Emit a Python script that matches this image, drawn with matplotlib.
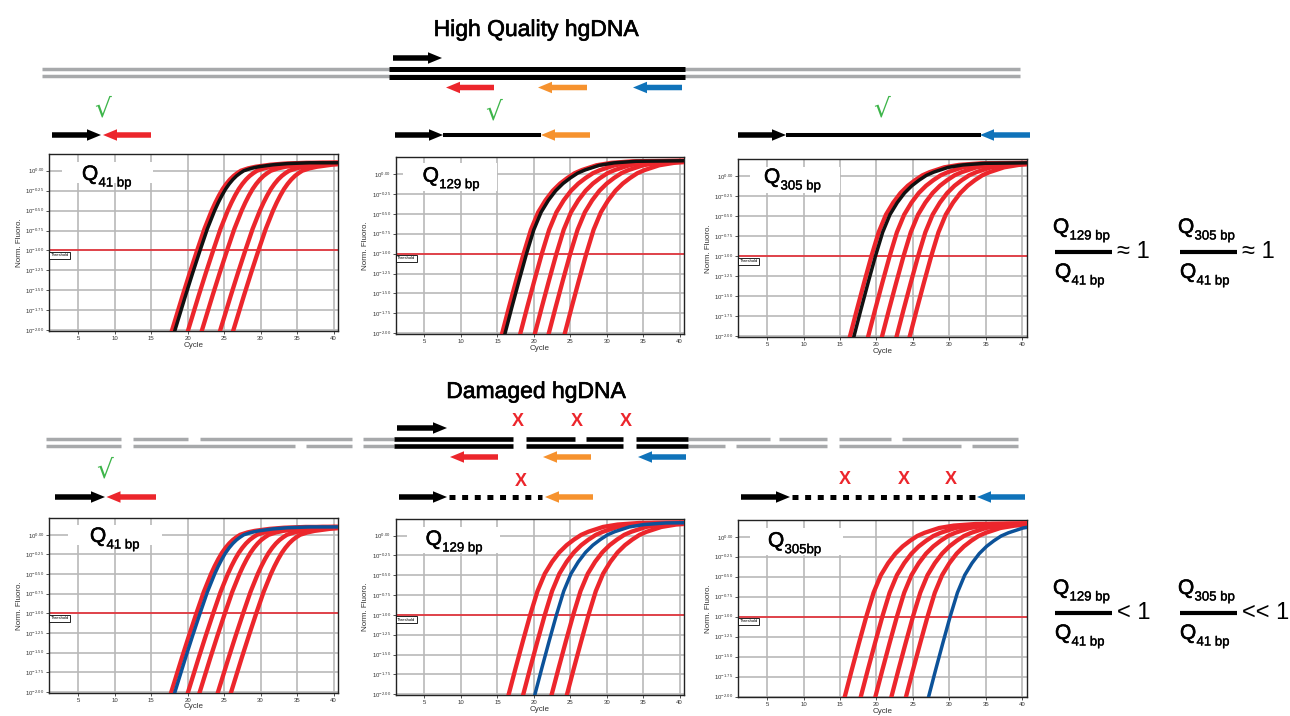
import numpy as np
import matplotlib
matplotlib.use('Agg')
import matplotlib.pyplot as plt
import matplotlib.patheffects as pe
from matplotlib.patches import FancyArrow, Rectangle

plt.rcParams['font.family'] = ['Liberation Sans', 'DejaVu Sans']
plt.rcParams['mathtext.fontset'] = 'custom'
plt.rcParams['mathtext.rm'] = 'Liberation Sans'
plt.rcParams['lines.scale_dashes'] = False

# ---- data ----
cycle_ticks = [5, 10, 15, 20, 25, 30, 35, 40]
fluoro_ticks = [-2.0, -1.75, -1.5, -1.25, -1.0, -0.75, -0.5, -0.25, 0.0]
threshold = -1.0

# amplification curve shape (log10 fluoro) vs cycles after Ct
rel_short = [-4, -3, -2, -1, 0, 1, 2, 2.5, 3, 3.5, 4, 4.5, 5, 5.5, 6, 7, 8, 10, 12, 15, 25]
fluo_short = [-2.17, -1.87, -1.57, -1.28, -1.00, -0.73, -0.50, -0.40, -0.31, -0.23, -0.165,
              -0.11, -0.065, -0.03, 0.0, 0.03, 0.05, 0.075, 0.09, 0.10, 0.10]
rel_long = [-4, -3, -2, -1, 0, 1, 2, 3, 4, 5, 6, 7, 8, 9, 10, 12, 15, 25]
fluo_long = [-2.36, -2.02, -1.67, -1.33, -1.00, -0.70, -0.48, -0.33, -0.21, -0.12, -0.05,
             0.01, 0.05, 0.08, 0.11, 0.14, 0.16, 0.17]

# Ct values (threshold crossings)
hq_41_red = [21.3, 23.5, 25.4, 27.9, 29.7]
hq_41_ref = 21.7
hq_129_red = [18.6, 21.1, 23.1, 25.0, 27.2]
hq_129_ref = 19.0
hq_305_red = [19.3, 21.8, 23.7, 25.7, 27.5]
hq_305_ref = 19.85
dm_41_red = [21.2, 23.5, 25.1, 27.6, 29.4]
dm_41_ref = 21.7
dm_129_red = [19.5, 21.5, 25.4, 27.5]
dm_129_ref = 23.1
dm_305_red = [18.6, 20.8, 22.8, 25.0, 27.0]
dm_305_ref = 30.1

RED = '#ec262c'
BLACK = '#111111'
BLUE = '#0c5299'
ORANGE = '#f6922e'
PBLUE = '#0f73ba'
GREEN = '#3db54a'
GRAY = '#a7a9ab'

# slightly heavier type, like a medium weight
MED = [pe.withStroke(linewidth=0.45, foreground='black')]
MED_S = [pe.withStroke(linewidth=0.25, foreground='black')]

W, H = 1290, 716
fig = plt.figure(figsize=(12.9, 7.16), dpi=100)

# panel frames in pixels: left, top, right, bottom
panels = [
    ((49.3, 154, 338, 331), hq_41_red, hq_41_ref, BLACK, 'short', '41 bp'),
    ((395.7, 157.3, 684, 334), hq_129_red, hq_129_ref, BLACK, 'long', '129 bp'),
    ((738.3, 159.3, 1026.7, 337.3), hq_305_red, hq_305_ref, BLACK, 'long', '305 bp'),
    ((49.3, 518.3, 338, 692.7), dm_41_red, dm_41_ref, BLUE, 'short', '41 bp'),
    ((395.7, 519, 684, 695), dm_129_red, dm_129_ref, BLUE, 'long', '129 bp'),
    ((738.3, 520, 1026.7, 697.3), dm_305_red, dm_305_ref, BLUE, 'long', '305bp'),
]

for (l, t, r, b), reds, ref, refcol, shape, sub in panels:
    ax = fig.add_axes([l / W, 1 - b / H, (r - l) / W, (b - t) / H])
    rel, fl = (rel_short, fluo_short) if shape == 'short' else (rel_long, fluo_long)
    for ct in reds:
        ax.plot(np.array(rel) + ct, fl, color=RED, lw=3.1, solid_capstyle='butt', zorder=3)
    ax.plot(np.array(rel) + ref, fl, color=refcol, lw=2.5, solid_capstyle='butt', zorder=4)
    ax.axhline(threshold, color='#e8202a', lw=1.1, zorder=2)
    ax.text(1.25, threshold - 0.035, 'Threshold', fontsize=3.0, va='top', ha='left', zorder=5,
            bbox=dict(boxstyle='square,pad=0.35', fc='white', ec='black', lw=0.6))
    ax.set_xlim(1.05, 40.6)
    ax.set_ylim(-2.01, 0.21)
    ax.set_xticks(cycle_ticks)
    ax.set_yticks(fluoro_ticks)
    ax.set_yticklabels([r'$\mathregular{10^{%.2f}}$' % v for v in fluoro_ticks])
    ax.tick_params(labelsize=4.3, length=2, width=0.6, pad=1.5, colors='#333333')
    ax.grid(True, color='#b9b9b9', lw=1.2, zorder=1)
    ax.set_axisbelow(True)
    for s in ax.spines.values():
        s.set_linewidth(1.0)
        s.set_color('#222222')
    ax.set_xlabel('Cycle', fontsize=5.8, labelpad=0.5, color='#333333')
    ax.set_ylabel('Norm. Fluoro.', fontsize=5.8, labelpad=2, color='#333333')

# ---- overlay for the schematic ----
ov = fig.add_axes([0, 0, 1, 1], zorder=10)
ov.set_xlim(0, W)
ov.set_ylim(H, 0)
ov.axis('off')
ov.patch.set_alpha(0)


def arrow(x0, x1, y, color):
    ov.add_patch(FancyArrow(x0, y, x1 - x0, 0, width=5.5, head_width=11.5, head_length=14,
                            length_includes_head=True, color=color, lw=0))


def strand(segs, y, color, lw):
    for a, c in segs:
        ov.plot([a, c], [y, y], color=color, lw=lw, solid_capstyle='butt')


def qlabel(x, y, sub, size=15, subsize=9.5):
    ov.text(x, y, 'Q', fontsize=size, ha='left', va='baseline', path_effects=MED)
    ov.text(x + 16.5, y + 6.5, sub, fontsize=subsize, ha='left', va='baseline',
            path_effects=MED_S)


# titles
ov.text(536, 36, 'High Quality hgDNA', fontsize=16.5, ha='center', va='baseline',
        path_effects=MED)
ov.text(536, 398, 'Damaged hgDNA', fontsize=16.5, ha='center', va='baseline',
        path_effects=MED)

# intact DNA
strand([(42, 1020)], 69, GRAY, 2.5)
strand([(42, 1020)], 76.3, GRAY, 2.5)
strand([(389, 684.5)], 68.5, 'black', 3.6)
strand([(389, 684.5)], 76.5, 'black', 3.6)
arrow(393, 442, 58, 'black')
arrow(494, 446, 87.5, RED)
arrow(587, 538, 87.5, ORANGE)
arrow(682, 633, 87.5, PBLUE)

# damaged DNA
strand([(46, 121), (133, 188), (200, 352), (363, 394), (688, 770), (779, 827),
        (839, 891), (902, 1018)], 439, GRAY, 2.5)
strand([(46, 121), (133, 295), (305.5, 352), (363, 394), (688, 725), (736, 827),
        (839, 961), (972, 1018)], 446, GRAY, 2.5)
strand([(393.5, 513), (526, 575), (586, 623), (636, 688)], 439, 'black', 3.3)
strand([(393.5, 513), (526, 623), (636, 688)], 446, 'black', 3.3)
arrow(397, 447, 428, 'black')
arrow(498, 450, 457, RED)
arrow(591, 543, 457, ORANGE)
arrow(686, 638, 457, PBLUE)

# amplicons, intact
arrow(52, 101, 135, 'black')
arrow(151, 103, 135, RED)
arrow(395, 443, 135, 'black')
ov.plot([443, 541], [135, 135], color='black', lw=2.9, solid_capstyle='butt')
arrow(590, 541, 135, ORANGE)
arrow(738, 786, 135, 'black')
ov.plot([786, 981], [135, 135], color='black', lw=2.9, solid_capstyle='butt')
arrow(1030, 980, 135, PBLUE)

# amplicons, damaged
arrow(55, 105, 497, 'black')
arrow(156, 106.5, 497, RED)
arrow(399, 447, 497, 'black')
ov.plot([449, 542], [497, 497], color='black', lw=3.6, linestyle=(0, (4.3, 4.8)))
arrow(593, 545, 497, ORANGE)
arrow(741, 790, 497, 'black')
ov.plot([792, 977], [497, 497], color='black', lw=3.6, linestyle=(0, (4.3, 4.8)))
arrow(1025, 977, 497, PBLUE)

# checks and crosses
for cx, cy in [(103, 110), (494, 113), (882, 110), (105, 471)]:
    ov.text(cx, cy, '\u221a', fontsize=19, color=GREEN, ha='center', va='center',
            family='DejaVu Sans')
for cx, cy in [(518, 426.5), (577, 426.5), (626, 426.5), (521, 486.5),
               (845, 483.5), (904, 483.5), (951, 483.5)]:
    ov.text(cx, cy, 'X', fontsize=13, color=RED, ha='center', va='baseline',
            fontweight='bold')

# Q labels on panels
qboxes = [(62, 162, 153, 183), (403, 163, 497, 191), (750, 167, 840, 193),
          (68, 525, 162, 545), (406.7, 527, 500, 553), (750, 528, 843, 555)]
qpos = [(82, 180), (422.7, 181.7), (764, 183), (90, 542), (425.7, 545), (768, 546.7)]
for (x0, y0, x1, y1), (qx, qy), p in zip(qboxes, qpos, panels):
    ov.add_patch(Rectangle((x0, y0), x1 - x0, y1 - y0, fc='white', ec='none'))
    qlabel(qx, qy, p[5])


# ratio equations
def frac(x, ybar, num, rel):
    qlabel(x, ybar - 19, num, size=15, subsize=9.5)
    ov.plot([x + 2, x + 59], [ybar, ybar], color='black', lw=3.0, solid_capstyle='butt')
    qlabel(x + 2, ybar + 26, '41 bp', size=15, subsize=9.5)
    ov.text(x + 64, ybar, rel, fontsize=17, ha='left', va='center')


frac(1053, 252, '129 bp', '\u2248 1')
frac(1178, 252, '305 bp', '\u2248 1')
frac(1053, 613, '129 bp', '< 1')
frac(1178, 613, '305 bp', '<< 1')

fig.savefig('out.png', dpi=100)
